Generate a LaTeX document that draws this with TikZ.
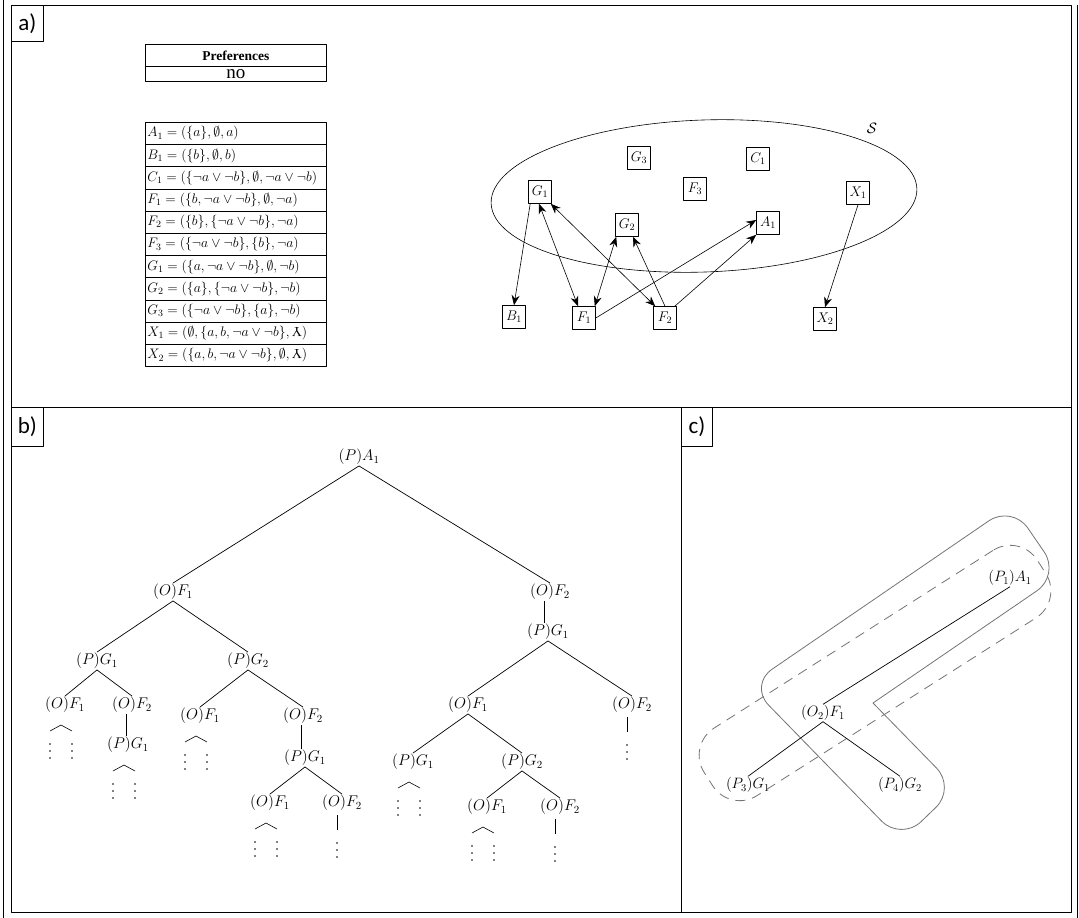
\RequirePackage{fix-cm}
\documentclass[tikz,border=0pt]{standalone}
\usepackage{fontspec}
\setmainfont{Liberation Serif}
\newfontfamily\labfont{Carlito}
\usetikzlibrary{arrows.meta}
\newcommand{\revY}{\mathord{\rotatebox[origin=c]{180}{$\mathrm{Y}$}}}
\tikzset{
  hatdots/.pic={\draw[line width=0.6pt] (-11,6) -- (0,0) -- (11,6);
    \foreach \yy in {19,26,33} {\fill (-11,\yy) circle (0.9pt); \fill (11,\yy) circle (0.9pt);}},
  linedots/.pic={\draw[line width=0.6pt] (0,0) -- (0,15);
    \foreach \yy in {28,35,42} {\fill (0,\yy) circle (0.9pt);}}
}
\begin{document}
\begin{tikzpicture}[x=1pt,y=-1pt,line join=round,
  frame/.style={draw=black,line width=1pt},
  labbox/.style={draw=black,line width=0.8pt,font=\labfont\fontsize{23}{26}\selectfont,inner sep=0pt,anchor=north west,minimum width=32pt},
  prefbox/.style={draw=black,line width=0.8pt,minimum width=181pt,inner sep=1pt,anchor=north west},
  rowbox/.style={draw=black,line width=0.8pt,minimum width=181pt,minimum height=22.2pt,inner sep=2pt,anchor=north west,font=\fontsize{13.8}{16}\selectfont},
  gnode/.style={draw=black,line width=0.6pt,minimum width=23pt,minimum height=23pt,inner sep=1pt,font=\fontsize{14}{16}\selectfont},
  arr/.style={line width=0.6pt,-{Stealth[length=10pt,width=8pt]}},
  darr/.style={line width=0.6pt,{Stealth[length=10pt,width=8pt]}-{Stealth[length=10pt,width=8pt]}},
  tn/.style={inner sep=1pt,font=\fontsize{15.5}{18}\selectfont},
  cn/.style={inner sep=1pt,font=\fontsize{15}{18}\selectfont},
  tedge/.style={line width=0.7pt},
  group/.style={draw=black!55,line width=0.8pt},
]
\useasboundingbox (0,0) rectangle (1079,918);
% frames
\draw[frame] (11,5) rectangle (1071,912);
\draw[frame] (11,407) -- (1071,407);
\draw[frame] (681,407) -- (681,912);
\draw[line width=0.8pt] (3,0) -- (3,918);
\draw[line width=0.8pt] (1077,5) -- (1077,918);
\node[labbox,minimum height=36pt] (la) at (11,5) {a)};
\node[labbox,minimum height=39pt] (lb) at (11,407) {b)};
\node[labbox,minimum height=39pt,minimum width=31pt] (lc) at (681,407) {c)};

% preferences table
\node[prefbox,minimum height=22pt,font=\fontsize{13.5}{15}\selectfont] (pref) at (145,44) {\textbf{Preferences}};
\node[prefbox,minimum height=15pt,font=\fontsize{19}{20}\selectfont] (no) at (145,66) {no};

\node[rowbox] (tA1) at (145,122.0) {\makebox[177pt][l]{$A_1 = (\{a\}, \emptyset, a)$}};
\node[rowbox] (tB1) at (145,144.2) {\makebox[177pt][l]{$B_1 = (\{b\}, \emptyset, b)$}};
\node[rowbox] (tC1) at (145,166.4) {\makebox[177pt][l]{$C_1 = (\{\neg a\vee\neg b\}, \emptyset, \neg a\vee\neg b)$}};
\node[rowbox] (tF1) at (145,188.6) {\makebox[177pt][l]{$F_1 = (\{b, \neg a\vee\neg b\}, \emptyset, \neg a)$}};
\node[rowbox] (tF2) at (145,210.8) {\makebox[177pt][l]{$F_2 = (\{b\}, \{\neg a\vee\neg b\}, \neg a)$}};
\node[rowbox] (tF3) at (145,233.0) {\makebox[177pt][l]{$F_3 = (\{\neg a\vee\neg b\}, \{b\}, \neg a)$}};
\node[rowbox] (tG1) at (145,255.2) {\makebox[177pt][l]{$G_1 = (\{a, \neg a\vee\neg b\}, \emptyset, \neg b)$}};
\node[rowbox] (tG2) at (145,277.4) {\makebox[177pt][l]{$G_2 = (\{a\}, \{\neg a\vee\neg b\}, \neg b)$}};
\node[rowbox] (tG3) at (145,299.6) {\makebox[177pt][l]{$G_3 = (\{\neg a\vee\neg b\}, \{a\}, \neg b)$}};
\node[rowbox] (tX1) at (145,321.8) {\makebox[177pt][l]{$X_1 = (\emptyset, \{a, b, \neg a\vee\neg b\}, \revY)$}};
\node[rowbox] (tX2) at (145,344.0) {\makebox[177pt][l]{$X_2 = (\{a, b, \neg a\vee\neg b\}, \emptyset, \revY)$}};

% graph
\draw[line width=0.6pt,rotate around={2:(704,196)}] (704,196) ellipse [x radius=213pt, y radius=76pt];
\node[font=\fontsize{15}{17}\selectfont] (Slab) at (872,128) {$\mathcal{S}$};
\node[gnode] (G3) at (639,158) {$G_3$};
\node[gnode] (C1) at (758,159) {$C_1$};
\node[gnode] (F3) at (695,189) {$F_3$};
\node[gnode] (G1) at (540,192) {$G_1$};
\node[gnode] (X1) at (858,193) {$X_1$};
\node[gnode] (G2) at (627,225) {$G_2$};
\node[gnode] (A1) at (768,223) {$A_1$};
\node[gnode] (B1) at (514,317) {$B_1$};
\node[gnode] (F1) at (584,318) {$F_1$};
\node[gnode] (F2) at (665,318) {$F_2$};
\node[gnode] (X2) at (825,319) {$X_2$};
\draw[arr] ([xshift=2pt]G1.south west) -- (B1.north);
\draw[darr] ([xshift=-1pt]G1.south) -- ([xshift=-6pt]F1.north);
\draw[darr] ([xshift=-1pt]G1.south east) -- ([xshift=2pt]F2.north west);
\draw[darr] ([xshift=-1pt]F1.north east) -- ([xshift=1pt]G2.south west);
\draw[arr] (F2.north) -- ([xshift=6pt]G2.south);
\draw[arr] (F1.east) -- ([yshift=3pt]A1.west);
\draw[arr] ([xshift=-2pt]F2.north east) -- (A1.south west);
\draw[arr] (X1.south) -- (X2.north);

% tree b
\node[tn] (r) at (359,457) {$(P)A_1$};
\node[tn] (l1) at (173,592) {$(O)F_1$};
\node[tn] (r1) at (550,592) {$(O)F_2$};
\node[tn] (r1a) at (548,632) {$(P)G_1$};
\node[tn] (l1a) at (97,661) {$(P)G_1$};
\node[tn] (l1b) at (248,661) {$(P)G_2$};
\node[tn] (l1a1) at (65,705) {$(O)F_1$};
\node[tn] (l1a2) at (132,705) {$(O)F_2$};
\node[tn] (l1a2a) at (128,745) {$(P)G_1$};
\node[tn] (l1b1) at (200,716) {$(O)F_1$};
\node[tn] (l1b2) at (303,716) {$(O)F_2$};
\node[tn] (l1b2a) at (305,758) {$(P)G_1$};
\node[tn] (l1b2a1) at (270,803) {$(O)F_1$};
\node[tn] (l1b2a2) at (342,803) {$(O)F_2$};
\node[tn] (r1a1) at (468,705) {$(O)F_1$};
\node[tn] (r1a2) at (632,705) {$(O)F_2$};
\node[tn] (r1a1a) at (413,762) {$(P)G_1$};
\node[tn] (r1a1b) at (522,762) {$(P)G_2$};
\node[tn] (r1a1b1) at (487,807) {$(O)F_1$};
\node[tn] (r1a1b2) at (560,807) {$(O)F_2$};
\draw[tedge] (r.south) -- (l1.north);
\draw[tedge] (r.south) -- (r1.north);
\draw[tedge] ([xshift=-4pt]r1a.north) -- ([xshift=-4pt]r1a.north |- r1.south);
\draw[tedge] (l1.south) -- (l1a.north);
\draw[tedge] (l1.south) -- (l1b.north);
\draw[tedge] (l1a.south) -- (l1a1.north);
\draw[tedge] (l1a.south) -- (l1a2.north);
\draw[tedge] ([xshift=-2pt]l1a2a.north) -- ([xshift=-2pt]l1a2a.north |- l1a2.south);
\draw[tedge] (l1b.south) -- (l1b1.north);
\draw[tedge] (l1b.south) -- (l1b2.north);
\draw[tedge] ([xshift=-4pt]l1b2a.north) -- ([xshift=-4pt]l1b2a.north |- l1b2.south);
\draw[tedge] (l1b2a.south) -- (l1b2a1.north);
\draw[tedge] (l1b2a.south) -- (l1b2a2.north);
\draw[tedge] (r1a.south) -- (r1a1.north);
\draw[tedge] (r1a.south) -- (r1a2.north);
\draw[tedge] (r1a1.south) -- (r1a1a.north);
\draw[tedge] (r1a1.south) -- (r1a1b.north);
\draw[tedge] (r1a1b.south) -- (r1a1b1.north);
\draw[tedge] (r1a1b.south) -- (r1a1b2.north);
\pic at ([xshift=-4pt,yshift=-20pt]l1a1.center) {hatdots};
\pic at ([xshift=-4pt,yshift=-20pt]l1a2a.center) {hatdots};
\pic at ([xshift=-4pt,yshift=-20pt]l1b1.center) {hatdots};
\pic at ([xshift=-4pt,yshift=-20pt]l1b2a1.center) {hatdots};
\pic at ([xshift=-4pt,yshift=-20pt]r1a1a.center) {hatdots};
\pic at ([xshift=-4pt,yshift=-20pt]r1a1b1.center) {hatdots};
\pic at ([xshift=-5pt,yshift=-12pt]l1b2a2.center) {linedots};
\pic at ([xshift=-5pt,yshift=-12pt]r1a2.center) {linedots};
\pic at ([xshift=-5pt,yshift=-12pt]r1a1b2.center) {linedots};

% panel c
\node[group,dashed,dash pattern=on 10pt off 7pt,rounded corners=32pt,minimum width=395pt,minimum height=80pt,rotate=32.5] (capsule) at (875,673) {};
\coordinate (C1) at (749,685);
\coordinate (C2) at (1012,505);
\coordinate (C3) at (1060,575);
\coordinate (C4) at (873,703);
\coordinate (C5) at (956,788);
\coordinate (C6) at (901,841);
\draw[group,rounded corners=28pt,line cap=round] (C4) -- (C5) -- (C6) -- (C1) -- (C2) -- (C3) -- (C4);
\node[cn] (cA) at (1010,578) {$(P_1)A_1$};
\node[cn] (cF) at (823,713) {$(O_2)F_1$};
\node[cn] (cG1) at (748,785) {$(P_3)G_1$};
\node[cn] (cG2) at (900,785) {$(P_4)G_2$};
\draw[tedge] (cA.south) -- (cF.north);
\draw[tedge] (cF.south) -- (cG1.north);
\draw[tedge] (cF.south) -- (cG2.north);
\end{tikzpicture}
\end{document}
